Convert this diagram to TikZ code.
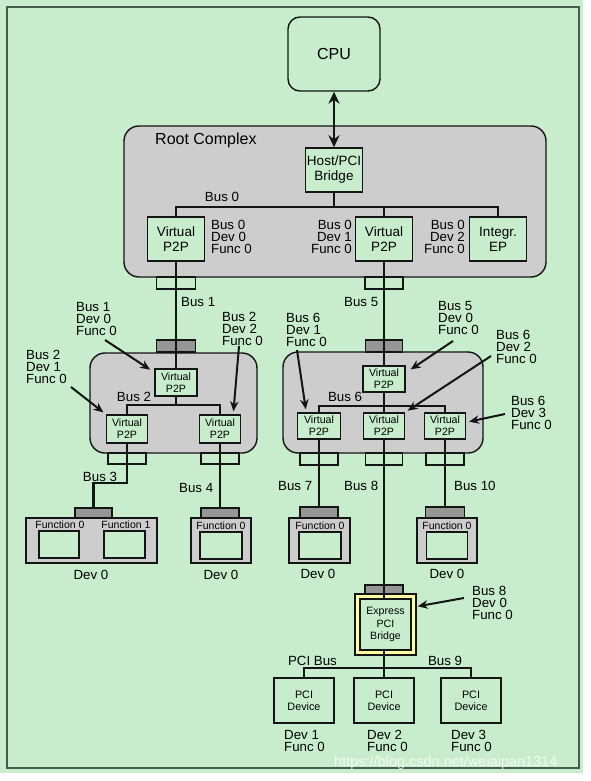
\documentclass[tikz,border=0pt]{standalone}
\usepackage{fontspec}
\setmainfont{Liberation Sans}
\usetikzlibrary{arrows.meta}
\definecolor{mint}{RGB}{200,237,205}
\definecolor{rcgray}{RGB}{205,205,205}
\definecolor{portgray}{RGB}{150,150,150}
\definecolor{bridgey}{RGB}{255,255,160}
\definecolor{ink}{RGB}{20,20,20}
\definecolor{framecol}{RGB}{70,92,76}

\begin{document}
\begin{tikzpicture}[x=1pt, y=-1pt,
        box/.style={draw=ink, line width=1.4pt, fill=mint, inner sep=0pt, align=center, minimum width=57pt, minimum height=44pt, font=\fontsize{13.5}{15}\selectfont},
        sbox/.style={box, minimum width=41pt, minimum height=27pt, font=\fontsize{10.6}{12}\selectfont},
        grp/.style={draw=ink, line width=1.4pt, fill=rcgray, rounded corners=15pt, inner sep=0pt},
        dev/.style={draw=ink, line width=1.4pt, fill=rcgray, minimum width=60pt, minimum height=45pt, inner sep=0pt},
        win/.style={draw=ink, line width=1.4pt, fill=mint, minimum width=41pt, minimum height=27pt, inner sep=0pt},
        port/.style={draw=ink, line width=1.1pt, fill=mint, minimum width=38pt, minimum height=12pt, inner sep=0pt},
        dport/.style={port, fill=portgray, minimum height=11pt},
        bus/.style={draw=ink, line width=2.9pt},
        ann/.style={draw=ink, line width=2pt, -{Stealth[length=10pt, width=8.5pt]}, shorten >=3pt},
        lbl/.style={inner sep=0pt, align=left, font=\fontsize{13.3}{12}\selectfont},
        fn/.style={inner sep=0pt, font=\fontsize{10.5}{12}\selectfont}]
    \useasboundingbox (0,0) rectangle (590,781);
    \fill[white] (0,0) rectangle (590,781);
    \fill[mint] (0,0) rectangle (583,773);
    \draw[framecol, line width=2pt] (7,7) rectangle (579,768);

    \node[box, rounded corners=12pt, minimum width=92pt, minimum height=74pt, font=\fontsize{16}{18}\selectfont] (cpu) at (334,54) {CPU};
    \node[grp, minimum width=422pt, minimum height=151pt] (rc) at (335,201.5) {};
    \node[lbl, anchor=west, font=\fontsize{16}{18}\selectfont] (rclbl) at (155,140) {Root Complex};
    \node[box] (hpb) at (334,170) {Host/PCI\\Bridge};
    \node[box] (v1) at (176,239) {Virtual\\P2P};
    \node[box] (v2) at (384,239) {Virtual\\P2P};
    \node[box] (ep) at (498,239) {Integr.\\EP};
    \node[port, minimum width=39pt] (rp1) at (176,283) {};
    \node[port] (rp2) at (384,283) {};
    \coordinate (b0) at (334,207);

    \node[grp, minimum width=167pt, minimum height=100pt] (sw1) at (173.5,403) {};
    \node[dport, minimum width=39pt, minimum height=12pt] (up1) at (176,346) {};
    \node[sbox, minimum width=42pt] (u1) at (176,382.5) {Virtual\\P2P};
    \node[sbox, minimum height=28pt] (l1) at (127,429) {Virtual\\P2P};
    \node[sbox, minimum height=28pt] (l2) at (220,429) {Virtual\\P2P};
    \node[port, minimum height=11pt] (lp1) at (127,458.5) {};
    \node[port, minimum height=11pt] (lp2) at (220,458.5) {};
    \coordinate (b2) at (176,405);
    \coordinate (b3) at (127,483);

    \node[grp, minimum width=200pt, minimum height=101pt] (sw2) at (383,402.5) {};
    \node[dport, minimum width=37pt, minimum height=12pt] (up2) at (384,346) {};
    \node[sbox, minimum width=42pt, minimum height=26pt] (r0) at (384,379) {Virtual\\P2P};
    \node[sbox, minimum width=43pt, minimum height=26pt] (r1) at (319,426) {Virtual\\P2P};
    \node[sbox, minimum height=26pt] (r2) at (384,426) {Virtual\\P2P};
    \node[sbox, minimum height=26pt] (r3) at (445,426) {Virtual\\P2P};
    \node[port] (rpa) at (319,459) {};
    \node[port, minimum width=37pt] (rpb) at (384,459) {};
    \node[port] (rpc) at (445,459) {};
    \coordinate (b6) at (384,406);

    \node[dport, minimum width=37pt, minimum height=10pt] (d1p) at (93.5,513) {};
    \node[dev, minimum width=131pt] (d1) at (91.5,540.5) {};
    \node[fn] (f1a) at (60,525) {Function 0};
    \node[fn] (f1b) at (126,525) {Function 1};
    \node[win, minimum width=40pt] (d1a) at (59,544.5) {};
    \node[win] (d1b) at (124.5,544.5) {};
    \node[dport, minimum height=10pt] (d2p) at (220,513) {};
    \node[dev] (d2) at (221,540.5) {};
    \node[fn] (f2) at (221,526) {Function 0};
    \node[win, minimum width=42pt] (d2a) at (221,545.5) {};
    \node[dport] (d3p) at (319,512.5) {};
    \node[dev, minimum width=61pt] (d3) at (319.5,540.5) {};
    \node[fn] (f3) at (320,526) {Function 0};
    \node[win, minimum width=42pt] (d3a) at (320,545.5) {};
    \node[dport, minimum width=39pt] (d4p) at (445,512.5) {};
    \node[dev] (d4) at (447,540.5) {};
    \node[fn] (f4) at (447,526) {Function 0};
    \node[win] (d4a) at (447,545.5) {};

    \node[dport] (xp) at (384,590.5) {};
    \node[draw=ink, line width=1.4pt, fill=bridgey, minimum width=61pt, minimum height=61pt] (xb) at (385.5,624.5) {};
    \node[box, minimum width=51pt, minimum height=51pt, font=\fontsize{10.6}{12.7}\selectfont] (xi) at (385.5,624.5) {Express\\PCI\\Bridge};
    \coordinate (b9) at (384,668);
    \node[box, minimum width=60pt, minimum height=45pt, font=\fontsize{10.8}{11.7}\selectfont] (pd1) at (304,700.5) {PCI\\Device};
    \node[box, minimum width=60pt, minimum height=45pt, font=\fontsize{10.8}{11.7}\selectfont] (pd2) at (384,700.5) {PCI\\Device};
    \node[box, minimum width=60pt, minimum height=45pt, font=\fontsize{10.8}{11.7}\selectfont] (pd3) at (471,700.5) {PCI\\Device};

    \draw[ink, line width=2.9pt, {Stealth[length=12pt, width=11pt]}-{Stealth[length=12pt, width=11pt]}] (cpu) -- (hpb);
    \draw[bus] (hpb.south) -- (b0);
    \draw[bus] (v1.north) |- (b0) -| (ep.north);
    \draw[bus] (v2.north) -- (v2.north |- b0);
    \draw[bus] (v1.south) -- (u1.north);
    \draw[bus] (u1.south) -- (b2);
    \draw[bus] (l1.north) |- (b2) -| (l2.north);
    \draw[bus] (l1.south) -- (b3) -| (d1p.north);
    \draw[bus] (l2.south) -- (d2p.north);
    \draw[bus] (v2.south) -- (r0.north);
    \draw[bus] (r0.south) -- (b6);
    \draw[bus] (r1.north) |- (b6) -| (r3.north);
    \draw[bus] (r2.north) -- (b6);
    \draw[bus] (r1.south) -- (d3p.north);
    \draw[bus] (r3.south) -- (d4p.north);
    \draw[bus] (r2.south) -- (r2.south |- xi.north);
    \draw[bus] (b9 |- xi.south) -- (b9);
    \draw[bus] (pd1.north) |- (b9) -| (pd3.north);
    \draw[bus] (pd2.north) -- (b9);

    \node[lbl] (l0) at (222,197) {Bus 0};
    \node[lbl, anchor=west] (i1) at (211,237) {Bus 0\\Dev 0\\Func 0};
    \node[lbl, anchor=east, align=right] (i2) at (352,237) {Bus 0\\Dev 1\\Func 0};
    \node[lbl, anchor=east, align=right] (i3) at (465,237) {Bus 0\\Dev 2\\Func 0};
    \node[lbl, anchor=west] (lb1) at (181,302) {Bus 1};
    \node[lbl] (lb2) at (134,397) {Bus 2};
    \node[lbl] (lb3) at (100,477) {Bus 3};
    \node[lbl, anchor=west] (lb4) at (179,488) {Bus 4};
    \node[lbl, anchor=west] (lb5) at (344,302) {Bus 5};
    \node[lbl] (lb6) at (345,397) {Bus 6};
    \node[lbl, anchor=west] (lb7) at (278,486) {Bus 7};
    \node[lbl, anchor=west] (lb8) at (344,486) {Bus 8};
    \node[lbl, anchor=west] (lb10) at (454,486) {Bus 10};
    \node[lbl] (lpci) at (312.5,661) {PCI Bus};
    \node[lbl] (lb9) at (445,661) {Bus 9};
    \node[lbl] (dv1) at (91,575) {Dev 0};
    \node[lbl] (dv2) at (221,575) {Dev 0};
    \node[lbl] (dv3) at (318,574) {Dev 0};
    \node[lbl] (dv4) at (447,574) {Dev 0};
    \node[lbl, anchor=west] (pf1) at (284,741) {Dev 1\\Func 0};
    \node[lbl, anchor=west] (pf2) at (367,741) {Dev 2\\Func 0};
    \node[lbl, anchor=west] (pf3) at (451,741) {Dev 3\\Func 0};

    \node[lbl, anchor=west] (a1) at (76,319) {Bus 1\\Dev 0\\Func 0};
    \node[lbl, anchor=west] (a2) at (222,329) {Bus 2\\Dev 2\\Func 0};
    \node[lbl, anchor=west] (a3) at (26,367) {Bus 2\\Dev 1\\Func 0};
    \node[lbl, anchor=west] (a4) at (286,330) {Bus 6\\Dev 1\\Func 0};
    \node[lbl, anchor=west] (a5) at (438,318) {Bus 5\\Dev 0\\Func 0};
    \node[lbl, anchor=west] (a6) at (496,347) {Bus 6\\Dev 2\\Func 0};
    \node[lbl, anchor=west] (a7) at (511,413) {Bus 6\\Dev 3\\Func 0};
    \node[lbl, anchor=west] (a8) at (472,603) {Bus 8\\Dev 0\\Func 0};
    \coordinate (t1) at (105,340);
    \coordinate (t2) at (239,346);
    \coordinate (t3) at (71,387);
    \coordinate (t4) at (297,350);
    \coordinate (t5) at (453,341);
    \coordinate (t6) at (491,356);
    \coordinate (t7) at (505,414);
    \coordinate (t8) at (464,598);
    \draw[ann, shorten >=5pt] (t1) -- (u1.155);
    \draw[ann] (t2) -- (l2.48);
    \draw[ann] (t3) -- (l1.north west);
    \draw[ann] (t4) -- (r1.133);
    \draw[ann, shorten >=6pt] (t5) -- (r0.16);
    \draw[ann] (t6) -- (r2.north east);
    \draw[ann] (t7) -- (r3.10);
    \draw[ann, shorten >=1pt] (t8) -- (xb.30);

    \node[inner sep=0pt, anchor=west, text=white, text opacity=0.75, font=\fontsize{14.5}{16}\selectfont] (wm) at (334,763) {https://blog.csdn.net/weiaipan1314};
\end{tikzpicture}
\end{document}
